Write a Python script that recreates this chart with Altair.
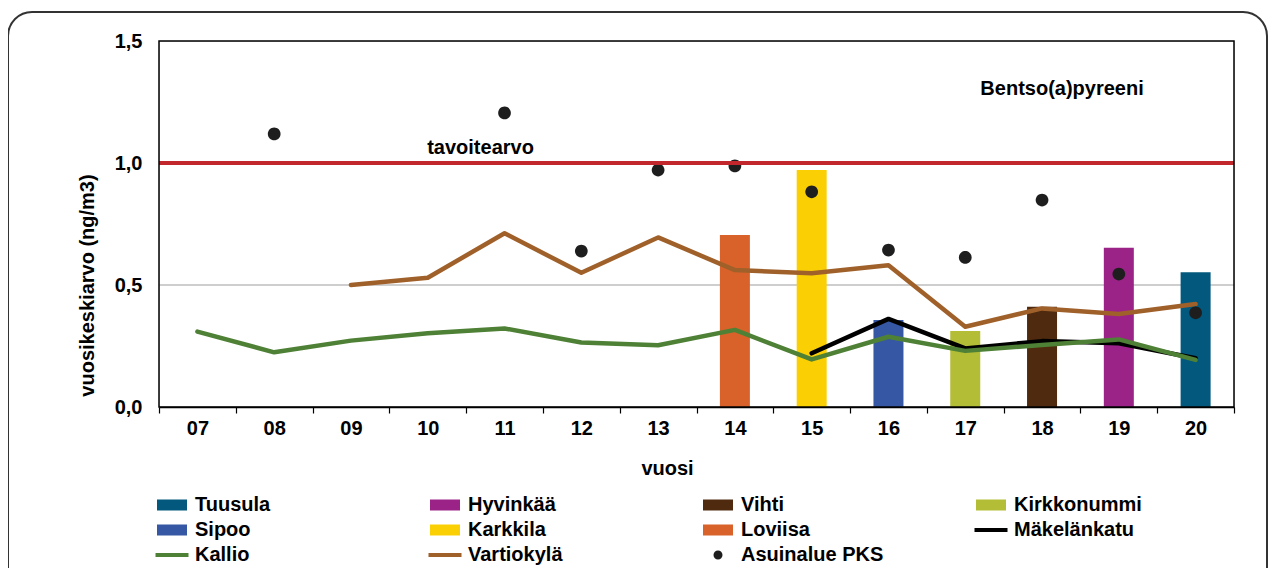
import altair as alt
import pandas as pd

# ---------------- data ----------------
years = ["07", "08", "09", "10", "11", "12", "13", "14", "15", "16", "17", "18", "19", "20"]

bar_years = ["14", "15", "16", "17", "18", "19", "20"]
bar_sites = ["Loviisa", "Karkkila", "Sipoo", "Kirkkonummi", "Vihti", "Hyvinkää", "Tuusula"]
bar_values = [0.705, 0.971, 0.357, 0.311, 0.411, 0.653, 0.552]

kallio_years = years
kallio = [0.309, 0.224, 0.272, 0.302, 0.322, 0.264, 0.253, 0.316, 0.195, 0.288, 0.230, 0.254, 0.277, 0.193]

vartiokyla_years = ["09", "10", "11", "12", "13", "14", "15", "16", "17", "18", "19", "20"]
vartiokyla = [0.500, 0.530, 0.712, 0.550, 0.695, 0.561, 0.548, 0.581, 0.329, 0.404, 0.381, 0.422]

makelankatu_years = ["15", "16", "17", "18", "19", "20"]
makelankatu = [0.220, 0.361, 0.240, 0.270, 0.261, 0.200]

pks_years = ["08", "11", "12", "13", "14", "15", "16", "17", "18", "19", "20"]
pks = [1.119, 1.205, 0.639, 0.971, 0.988, 0.882, 0.643, 0.613, 0.848, 0.545, 0.386]

target_value = 1.0
grid_values = [0.5]
y_ticks = [0, 0.5, 1.0, 1.5]

legend_names = ["Tuusula", "Hyvinkää", "Vihti", "Kirkkonummi",
                "Sipoo", "Karkkila", "Loviisa", "Mäkelänkatu",
                "Kallio", "Vartiokylä", "Asuinalue PKS"]
legend_colors = ["#02587D", "#9B2388", "#4F2A0E", "#B3BD36",
                 "#3557A4", "#FAD005", "#D9622A", "#000000",
                 "#4E8135", "#A0602A", "#1E1E1E"]
colour_of = dict(zip(legend_names, legend_colors))

line_names = ["Mäkelänkatu", "Vartiokylä", "Kallio"]

BAR_SYM = "M-3,-1.1H3V1.1H-3Z"
LINE_SYM = "M-3.3,-0.4H3.3V0.4H-3.3Z"
DOT_SYM = "M0,-0.9A0.9,0.9,0,1,1,0,0.9A0.9,0.9,0,1,1,0,-0.9Z"
legend_shapes = [BAR_SYM, BAR_SYM, BAR_SYM, BAR_SYM,
                 BAR_SYM, BAR_SYM, BAR_SYM, LINE_SYM,
                 LINE_SYM, LINE_SYM, DOT_SYM]

FONT = "Liberation Sans"
FS = 20

# ---------------- tables ----------------
bars_df = pd.DataFrame({"vuosi": bar_years, "sarja": bar_sites, "arvo": bar_values})
lines_df = pd.concat([
    pd.DataFrame({"vuosi": makelankatu_years, "sarja": "Mäkelänkatu", "arvo": makelankatu}),
    pd.DataFrame({"vuosi": vartiokyla_years, "sarja": "Vartiokylä", "arvo": vartiokyla}),
    pd.DataFrame({"vuosi": kallio_years, "sarja": "Kallio", "arvo": kallio}),
], ignore_index=True)
pks_df = pd.DataFrame({"vuosi": pks_years, "sarja": "Asuinalue PKS", "arvo": pks})

x_scale = alt.Scale(type="band", domain=years, paddingInner=0, paddingOuter=0)
y_scale = alt.Scale(domain=[0, 1.5], nice=False)
color_scale = alt.Scale(domain=legend_names, range=legend_colors)
shape_scale = alt.Scale(domain=legend_names, range=legend_shapes)
fill_scale = alt.Scale(domain=bar_sites, range=[colour_of[s] for s in bar_sites])
stroke_scale = alt.Scale(domain=line_names, range=[colour_of[s] for s in line_names])

x_axis = alt.Axis(
    title="vuosi", labelAngle=0, tickBand="extent", tickSize=6, tickColor="black",
    tickWidth=1.2, domainColor="black", domainWidth=1.5, grid=False,
    labelFont=FONT, labelFontSize=FS, labelFontWeight="bold", labelColor="black",
    labelPadding=5, titleFont=FONT, titleFontSize=FS, titleFontWeight="bold",
    titleColor="black", titleX=508, titleY=61, titleAlign="center", titleBaseline="middle",
)
y_axis = alt.Axis(
    title="vuosikeskiarvo (ng/m3)", values=y_ticks,
    labelExpr="replace(format(datum.value, '.1f'), '.', ',')",
    ticks=False, domain=False, grid=False,
    labelFont=FONT, labelFontSize=FS, labelFontWeight="bold", labelColor="black",
    labelPadding=17, titleFont=FONT, titleFontSize=FS, titleFontWeight="bold",
    titleColor="black", titleAngle=270, titleX=-72, titleY=244,
    titleAlign="center", titleBaseline="middle",
)

X = alt.X("vuosi:N", scale=x_scale, axis=x_axis)
Y = alt.Y("arvo:Q", scale=y_scale, axis=y_axis)

frame = alt.Chart(pd.DataFrame({"k": [0]})).mark_rect(
    fill="white", fillOpacity=0, stroke="#333333", strokeWidth=2, cornerRadius=24
).encode(
    x=alt.value(-151), x2=alt.value(1108), y=alt.value(-29), y2=alt.value(575)
)

grid = alt.Chart(pd.DataFrame({"arvo": grid_values})).mark_rule(
    color="#BEBEBE", strokeWidth=1.5
).encode(y=alt.Y("arvo:Q", scale=y_scale))

bars = alt.Chart(bars_df).mark_bar(size=30).encode(
    x=X, y=Y, fill=alt.Fill("sarja:N", scale=fill_scale, legend=None)
)


def line_layer(name):
    return alt.Chart(lines_df).transform_filter(
        alt.datum.sarja == name
    ).mark_line(strokeWidth=4.5, strokeCap="round", strokeJoin="round").encode(
        x=X, y=Y, stroke=alt.Stroke("sarja:N", scale=stroke_scale, legend=None)
    )


legend = alt.Legend(
    title=None, orient="none", legendX=3, legendY=454, columns=4, gridAlign="all",
    direction="horizontal",
    columnPadding=90, rowPadding=5, symbolSize=100, symbolStrokeWidth=0,
    symbolOpacity=1, labelFont=FONT, labelFontSize=FS, labelFontWeight="bold",
    labelColor="black", labelOffset=13, padding=0, labelLimit=400,
)

dots = alt.Chart(pks_df).mark_point(filled=True, opacity=1, size=200).encode(
    x=X, y=Y,
    color=alt.Color("sarja:N", scale=color_scale, legend=legend),
    shape=alt.Shape("sarja:N", scale=shape_scale, legend=legend),
)

target = alt.Chart(pd.DataFrame({"arvo": [target_value]})).mark_rule(
    color="#C1272D", strokeWidth=4
).encode(y=alt.Y("arvo:Q", scale=y_scale))

border = alt.Chart(pd.DataFrame({"k": [0]})).mark_rect(
    fill="white", fillOpacity=0, stroke="black", strokeWidth=1.5
).encode(
    x=alt.value(0), x2=alt.value(1075), y=alt.value(0), y2=alt.value(366)
)

label_target = alt.Chart(pd.DataFrame({"vuosi": ["11"], "arvo": [1.036], "t": ["tavoitearvo"]})).mark_text(
    font=FONT, fontSize=FS, fontWeight="bold", color="black", align="center",
    baseline="alphabetic", dx=-24
).encode(x=alt.X("vuosi:N", scale=x_scale), y=alt.Y("arvo:Q", scale=y_scale), text="t:N")

label_title = alt.Chart(pd.DataFrame({"vuosi": ["18"], "arvo": [1.278], "t": ["Bentso(a)pyreeni"]})).mark_text(
    font=FONT, fontSize=FS, fontWeight="bold", color="black", align="center",
    baseline="alphabetic", dx=20
).encode(x=alt.X("vuosi:N", scale=x_scale), y=alt.Y("arvo:Q", scale=y_scale), text="t:N")

chart = alt.layer(
    frame, grid, bars,
    line_layer("Mäkelänkatu"), line_layer("Vartiokylä"), line_layer("Kallio"),
    dots, target, border, label_target, label_title,
).properties(
    width=1075, height=366,
    autosize=alt.AutoSizeParams(type="none"),
    padding={"left": 151, "top": 33, "right": 35, "bottom": 161},
).configure_view(
    stroke=None
).configure(background="white")

chart.save("out.html", embed_options={"renderer": "svg", "actions": False})
